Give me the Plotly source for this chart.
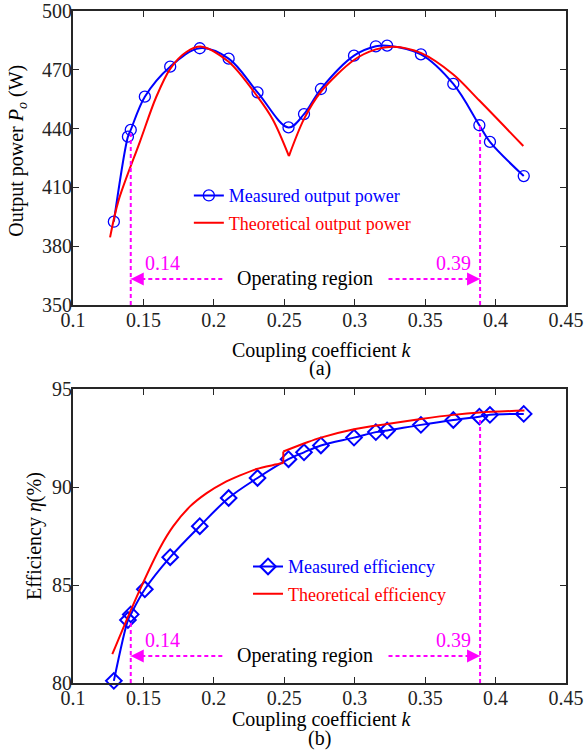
import plotly.graph_objects as go

# ---------------- data ----------------
k_meas = [0.129, 0.139, 0.141, 0.151, 0.169, 0.190, 0.2105, 0.231, 0.253, 0.264,
          0.276, 0.2995, 0.315, 0.323, 0.347, 0.370, 0.3885, 0.396, 0.420]
p_meas = [392.5, 435.9, 439.3, 456.3, 471.6, 481.0, 475.7, 458.5, 440.6, 447.4,
          460.2, 477.2, 482.0, 482.3, 477.9, 462.8, 441.7, 433.2, 415.8]
eta_meas = [80.11, 83.21, 83.5, 84.78, 86.42, 88.0, 89.44, 90.46, 91.42, 91.77,
            92.12, 92.52, 92.80, 92.88, 93.17, 93.42, 93.59, 93.68, 93.73]

k_pth_a = [0.1263, 0.1322, 0.1476, 0.159, 0.169, 0.1807, 0.1913, 0.2105, 0.231, 0.242, 0.2533]
p_th_a = [384.5, 403.0, 433.5, 456.0, 470.5, 479.2, 481.8, 474.1, 456.3, 444.4, 426.0]
k_pth_b = [0.2533, 0.2642, 0.276, 0.2995, 0.315, 0.3274, 0.3473, 0.370, 0.3885, 0.4197]
p_th_b = [426.0, 445.2, 458.8, 475.0, 480.4, 481.8, 478.5, 467.6, 454.3, 431.1]

k_eth_a = [0.1279, 0.1388, 0.1476, 0.1618, 0.1712, 0.1831, 0.1949, 0.2067, 0.2186, 0.2304, 0.2422, 0.2493]
eta_th_a = [81.47, 83.34, 84.78, 86.9, 88.0, 89.01, 89.69, 90.2, 90.59, 90.92, 91.12, 91.22]
k_eth_b = [0.2493, 0.2659, 0.276, 0.2995, 0.323, 0.347, 0.370, 0.3885, 0.4205]
eta_th_b = [91.81, 92.27, 92.52, 92.95, 93.22, 93.47, 93.68, 93.8, 93.9]

x_ticks = [0.1, 0.15, 0.2, 0.25, 0.3, 0.35, 0.4, 0.45]
x_ticktext = ["0.1", "0.15", "0.2", "0.25", "0.3", "0.35", "0.4", "0.45"]
y1_ticks = [350, 380, 410, 440, 470, 500]
y2_ticks = [80, 85, 90, 95]

op_low, op_high = 0.141, 0.389
op_labels = ["0.14", "0.39"]
p_vtop = [437.5, 441.7]
eta_vtop = [83.1, 93.5]
arrow_start = [0.206, 0.324]
p_arrow_y, eta_arrow_y = 363.3, 81.38

FONT = "Liberation Serif"
BLUE, RED, MAG, AX = "#0000ff", "#ff0000", "#ff00ff", "#262626"


def fnt(size, color="black"):
    return dict(family=FONT, size=size, color=color)


fig = go.Figure()

# ---- top panel ----
fig.add_trace(go.Scatter(x=k_meas, y=p_meas, mode="lines+markers",
                         line=dict(color=BLUE, width=2, shape="spline", smoothing=1.0),
                         marker=dict(symbol="circle-open", size=11, color=BLUE, line=dict(width=1.3)),
                         name='<span style="color:#0000ff">Measured output power</span>',
                         legend="legend", legendgroup="a1", xaxis="x", yaxis="y", cliponaxis=False))
fig.add_trace(go.Scatter(x=k_pth_a, y=p_th_a, mode="lines",
                         line=dict(color=RED, width=2, shape="spline", smoothing=0.9),
                         name='<span style="color:#ff0000">Theoretical output power</span>',
                         legend="legend", legendgroup="a2", xaxis="x", yaxis="y"))
fig.add_trace(go.Scatter(x=k_pth_b, y=p_th_b, mode="lines",
                         line=dict(color=RED, width=2, shape="spline", smoothing=0.9),
                         showlegend=False, legendgroup="a2", xaxis="x", yaxis="y"))

# ---- bottom panel ----
fig.add_trace(go.Scatter(x=k_meas, y=eta_meas, mode="lines+markers",
                         line=dict(color=BLUE, width=2, shape="spline", smoothing=1.0),
                         marker=dict(symbol="diamond-open", size=12, color=BLUE, line=dict(width=2)),
                         name='<span style="color:#0000ff">Measured efficiency</span>',
                         legend="legend2", legendgroup="b1", xaxis="x2", yaxis="y2", cliponaxis=False))
fig.add_trace(go.Scatter(x=k_eth_a, y=eta_th_a, mode="lines",
                         line=dict(color=RED, width=2, shape="spline", smoothing=0.8),
                         name='<span style="color:#ff0000">Theoretical efficiency</span>',
                         legend="legend2", legendgroup="b2", xaxis="x2", yaxis="y2"))
fig.add_trace(go.Scatter(x=[k_eth_a[-1], k_eth_b[0]], y=[eta_th_a[-1], eta_th_b[0]], mode="lines",
                         line=dict(color=RED, width=2), showlegend=False, xaxis="x2", yaxis="y2"))
fig.add_trace(go.Scatter(x=k_eth_b, y=eta_th_b, mode="lines",
                         line=dict(color=RED, width=2, shape="spline", smoothing=0.8),
                         showlegend=False, legendgroup="b2", xaxis="x2", yaxis="y2"))

# ---- operating region marks ----
annos = []
for xa, ya, ybase, vtops, yarr in [("x", "y", 350, p_vtop, p_arrow_y), ("x2", "y2", 80, eta_vtop, eta_arrow_y)]:
    for kk, vt in zip([op_low, op_high], vtops):
        fig.add_trace(go.Scatter(x=[kk, kk], y=[ybase, vt], mode="lines",
                                 line=dict(color=MAG, width=2, dash="4px,3px"),
                                 showlegend=False, xaxis=xa, yaxis=ya))
    for x0, x1 in [(arrow_start[0], op_low), (arrow_start[1], op_high)]:
        fig.add_trace(go.Scatter(x=[x0, x1], y=[yarr, yarr], mode="lines",
                                 line=dict(color=MAG, width=2, dash="4px,3px"),
                                 showlegend=False, xaxis=xa, yaxis=ya))
        # arrow head pointing at the operating-region boundary
        annos.append(dict(x=x1, y=yarr, xref=xa, yref=ya, ax=x1 + (x0 - x1) * 0.12, ay=yarr,
                          axref=xa, ayref=ya, text="", showarrow=True, arrowhead=2,
                          arrowsize=1.3, arrowwidth=2, arrowcolor=MAG, standoff=0, startstandoff=0))

for xa, ya, ylab, yarr in [("x", "y", 371.3, p_arrow_y), ("x2", "y2", 82.18, eta_arrow_y)]:
    annos.append(dict(x=0.150, y=ylab, xref=xa, yref=ya, text=op_labels[0], showarrow=False,
                      xanchor="left", yanchor="middle", font=fnt(20, MAG)))
    annos.append(dict(x=0.384, y=ylab, xref=xa, yref=ya, text=op_labels[1], showarrow=False,
                      xanchor="right", yanchor="middle", font=fnt(20, MAG)))
    annos.append(dict(x=0.265, y=yarr, xref=xa, yref=ya, text="Operating region", showarrow=False,
                      xanchor="center", yanchor="middle", font=fnt(20)))

# axis titles and panel labels
annos += [
    dict(x=0.505, y=0.4955, xref="paper", yref="paper", text="Coupling coefficient <i>k</i>",
         showarrow=False, xanchor="center", yanchor="middle", font=fnt(20)),
    dict(x=0.5, y=0.468, xref="paper", yref="paper", text="(a)",
         showarrow=False, xanchor="center", yanchor="middle", font=fnt(20)),
    dict(x=0.505, y=-0.0536, xref="paper", yref="paper", text="Coupling coefficient <i>k</i>",
         showarrow=False, xanchor="center", yanchor="middle", font=fnt(20)),
    dict(x=0.5, y=-0.0826, xref="paper", yref="paper", text="(b)",
         showarrow=False, xanchor="center", yanchor="middle", font=fnt(20)),
    dict(x=-0.1116, y=0.792, xref="paper", yref="paper", text="Output power <i>P</i><sub><i>o</i></sub> (W)",
         textangle=-90, showarrow=False, xanchor="center", yanchor="middle", font=fnt(20)),
    dict(x=-0.0791, y=0.21875, xref="paper", yref="paper", text="Efficiency <i>η</i>(%)",
         textangle=-90, showarrow=False, xanchor="center", yanchor="middle", font=fnt(20)),
]

axis_common = dict(showline=True, linecolor=AX, linewidth=1.8, mirror="ticks", ticks="inside",
                   ticklen=6, tickwidth=1.3, tickcolor=AX, showgrid=False, zeroline=False,
                   tickfont=fnt(20, "#222222"))

fig.update_layout(
    template="none",
    width=587, height=753,
    margin=dict(l=73, r=21, t=11, b=70),
    paper_bgcolor="white", plot_bgcolor="white",
    font=fnt(20),
    xaxis=dict(domain=[0, 1], anchor="y", range=[0.1, 0.45], tickvals=x_ticks, ticktext=x_ticktext,
               ticklabelstandoff=-4, **axis_common),
    yaxis=dict(domain=[0.5625, 1], anchor="x", range=[350, 500], tickvals=y1_ticks,
               ticklabelstandoff=-5, **axis_common),
    xaxis2=dict(domain=[0, 1], anchor="y2", range=[0.1, 0.45], tickvals=x_ticks, ticktext=x_ticktext,
                ticklabelstandoff=-4, **axis_common),
    yaxis2=dict(domain=[0, 0.4375], anchor="x2", range=[80, 95], tickvals=y2_ticks,
                ticklabelstandoff=-5, **axis_common),
    legend=dict(x=0.235, y=0.7526, xanchor="left", yanchor="top", bgcolor="rgba(0,0,0,0)",
                font=fnt(18), traceorder="grouped", tracegroupgap=1),
    legend2=dict(x=0.355, y=0.2005, xanchor="left", yanchor="top", bgcolor="rgba(0,0,0,0)",
                 font=fnt(18), traceorder="grouped", tracegroupgap=1),
    annotations=annos,
    showlegend=True,
)

fig.write_html("out.html")
